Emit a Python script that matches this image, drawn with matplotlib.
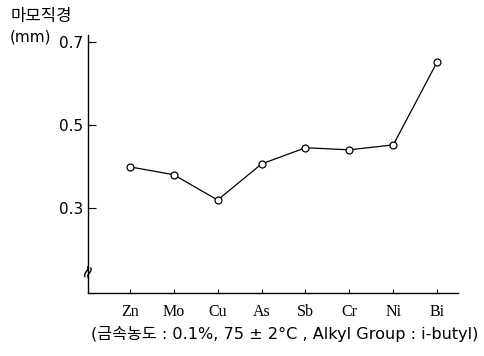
import matplotlib.pyplot as plt

metals = ['Zn', 'Mo', 'Cu', 'As', 'Sb', 'Cr', 'Ni', 'Bi']
wear = [0.399, 0.380, 0.319, 0.406, 0.445, 0.440, 0.452, 0.652]
yticks = [0.3, 0.5, 0.7]

fig = plt.figure(figsize=(4.85, 3.56), dpi=100)
ax = fig.add_axes([0.181, 0.177, 0.763, 0.725])

x = list(range(len(metals)))
ax.plot(x, wear, color='black', lw=0.9, marker='o', ms=5,
        mfc='white', mec='black', mew=0.9)

ax.set_xlim(-0.957, 7.47)
ax.set_ylim(0.095, 0.717)
ax.set_xticks(x)
ax.set_xticklabels(metals, family='Liberation Serif', fontsize=11.5)
ax.set_yticks(yticks)
ax.set_yticklabels([str(v) for v in yticks], family='DejaVu Sans', fontsize=11)
ax.tick_params(axis='y', direction='in', length=6, width=0.8, pad=3)
ax.tick_params(axis='x', direction='in', length=3, width=0.8, pad=8)

for s in ['top', 'right']:
    ax.spines[s].set_visible(False)
for s in ['left', 'bottom']:
    ax.spines[s].set_linewidth(1.0)

# axis break mark on the y axis
ax.text(0.0, 0.085, '≈', transform=ax.transAxes, rotation=70, fontsize=13,
        ha='center', va='center', family='DejaVu Sans')

fig.text(0.021, 0.955, '마모직경', family=['Noto Sans CJK KR', 'DejaVu Sans'],
         fontsize=12, va='center')
fig.text(0.021, 0.897, '(mm)', family='DejaVu Sans', fontsize=11, va='center')

fig.text(0.588, 0.063, '(금속농도 : 0.1%, 75 ± 2°C , Alkyl Group : i-butyl)',
         family=['DejaVu Sans', 'Noto Sans CJK KR'], fontsize=11.6,
         ha='center', va='center')

fig.savefig('out.png', dpi=100)
